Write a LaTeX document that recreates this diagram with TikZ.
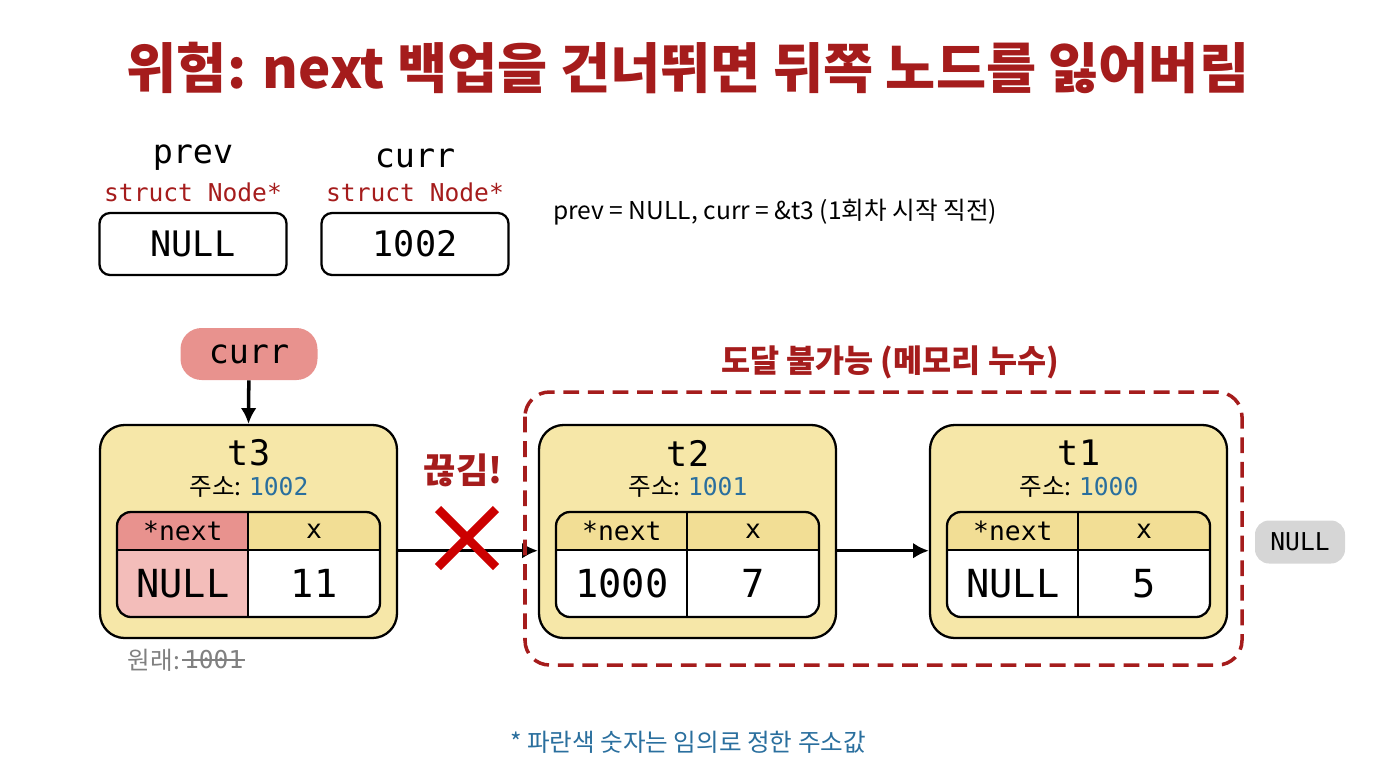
\documentclass[tikz,border=0pt]{standalone}
\usepackage{fontspec}
\setmainfont{Noto Sans CJK KR}
\setmonofont{DejaVu Sans Mono}
\definecolor{darkred}{HTML}{A51C1C}
\definecolor{pinkred}{HTML}{E8928E}
\definecolor{lightred}{HTML}{F3BDBA}
\definecolor{cream}{HTML}{F6E7A8}
\definecolor{creamdark}{HTML}{F2DE95}
\definecolor{addrblue}{HTML}{2A6F9E}
\definecolor{nullgray}{HTML}{D6D6D6}
\newcommand{\fs}[1]{\fontsize{#1}{#1}\selectfont}

\tikzset{
  varbox/.style={draw, line width=1.3pt, rounded corners=6pt, fill=white,
    minimum width={187*0.02cm}, minimum height={62*0.02cm}, font=\ttfamily\fs{20}},
  structbox/.style={draw, line width=1.3pt, rounded corners=14pt, fill=cream,
    minimum width={297*0.02cm}, minimum height={213*0.02cm}},
  cell/.style={minimum width={131*0.02cm}, inner sep=0pt},
  head/.style={cell, minimum height={38*0.02cm}, font=\ttfamily\fs{15}},
  val/.style={cell, minimum height={67*0.02cm}, font=\ttfamily\fs{22}},
  link/.style={-{Latex[length=9pt,width=9pt]}, line width=2pt},
}
\usetikzlibrary{arrows.meta}

% one node of the list: name, left x, title, address, next value, x value, next colour, next value colour
\newcommand{\listnode}[8]{
  \node[structbox] (#1) at ({#2+148.5},531.5) {};
  \node[font=\ttfamily\fs{20}] (#1title) at ({#2+149},453) {#3};
  \node[font=\fs{14}] (#1addr) at ({#2+149},487) {주소: \textcolor{addrblue}{\ttfamily #4}};
  \begin{scope}
    \clip[rounded corners=8pt] ({#2+17},512) rectangle ({#2+280},617);
    \node[head, fill=#7, anchor=north west] (#1nh) at ({#2+17},512) {*next};
    \node[head, fill=creamdark, anchor=north east] (#1xh) at ({#2+280},512) {x};
    \node[val, fill=#8, anchor=north west] (#1nv) at ({#2+17},550) {#5};
    \node[val, fill=white, anchor=north east] (#1xv) at ({#2+280},550) {#6};
  \end{scope}
  \draw[line width=1.3pt, rounded corners=8pt] ({#2+17},512) rectangle ({#2+280},617);
  \draw[line width=1.3pt] ({#2+148},512) -- ({#2+148},617) ({#2+17},550) -- ({#2+280},550);
}

\begin{document}
\begin{tikzpicture}[x=0.02cm, y=-0.02cm]
  \useasboundingbox (0,0) rectangle (1376,768);

  % title
  \node[font=\bfseries\fs{31}, text=darkred] (title) at (688,68) {위험: next 백업을 건너뛰면 뒤쪽 노드를 잃어버림};

  % variables
  \node[font=\ttfamily\fs{19}] (prevname) at (193,158) {prev};
  \node[font=\ttfamily\fs{14}, text=darkred] (prevtype) at (193,192) {struct Node*};
  \node[varbox] (prev) at (193,244) {NULL};
  \node[font=\ttfamily\fs{19}] (currname) at (415,158) {curr};
  \node[font=\ttfamily\fs{14}, text=darkred] (currtype) at (415,192) {struct Node*};
  \node[varbox] (curr) at (415,244) {1002};
  \node[font=\fs{14}, anchor=west] (state) at (547,212) {prev = NULL, curr = \&t3 (1회차 시작 직전)};

  % list nodes
  \listnode{tthree}{100}{t3}{1002}{NULL}{11}{pinkred}{lightred}
  \listnode{ttwo}{539}{t2}{1001}{1000}{7}{creamdark}{white}
  \listnode{tone}{930}{t1}{1000}{NULL}{5}{creamdark}{white}

  % curr pointer
  \node[fill=pinkred, rounded corners=12pt, minimum width={137*0.02cm},
    minimum height={52*0.02cm}, font=\ttfamily\fs{19}] (currptr) at (249,354) {curr};
  \draw[link] (currptr) -- (tthree.north);

  % broken link
  \draw[link] (tthree.east |- tthreenh.south) -- (ttwo.west |- tthreenh.south);
  \draw[line width=5pt, color=red!80!black] (438,509) -- (496,567) (496,509) -- (438,567);
  \node[font=\bfseries\fs{20}, text=darkred] (broken) at (463,470) {끊김!};
  \draw[link] (ttwo.east |- ttwonh.south) -- (tone.west |- ttwonh.south);

  \node[fill=nullgray, rounded corners=8pt, minimum width={90*0.02cm},
    minimum height={43*0.02cm}, font=\ttfamily\fs{14}] (nullend) at (1300,542) {NULL};

  % unreachable region
  \draw[darkred, line width=2pt, dash pattern=on 9pt off 5pt, rounded corners=14pt]
    (525,392) rectangle (1242,665);
  \node[font=\bfseries\fs{18}, text=darkred] (lost) at (890,362) {도달 불가능 (메모리 누수)};

  % old value
  \node[font=\fs{14}, text=gray, anchor=east, inner xsep=1pt] (orig) at (182,660) {원래:};
  \node[font=\ttfamily\fs{14}, text=gray, anchor=west, inner xsep=1pt] (origval) at (182,660) {1001};
  \draw[gray, line width=1.2pt] (origval.west) -- (origval.east);

  \node[font=\fs{14}, text=addrblue] (note) at (688,742) {* 파란색 숫자는 임의로 정한 주소값};
\end{tikzpicture}
\end{document}
